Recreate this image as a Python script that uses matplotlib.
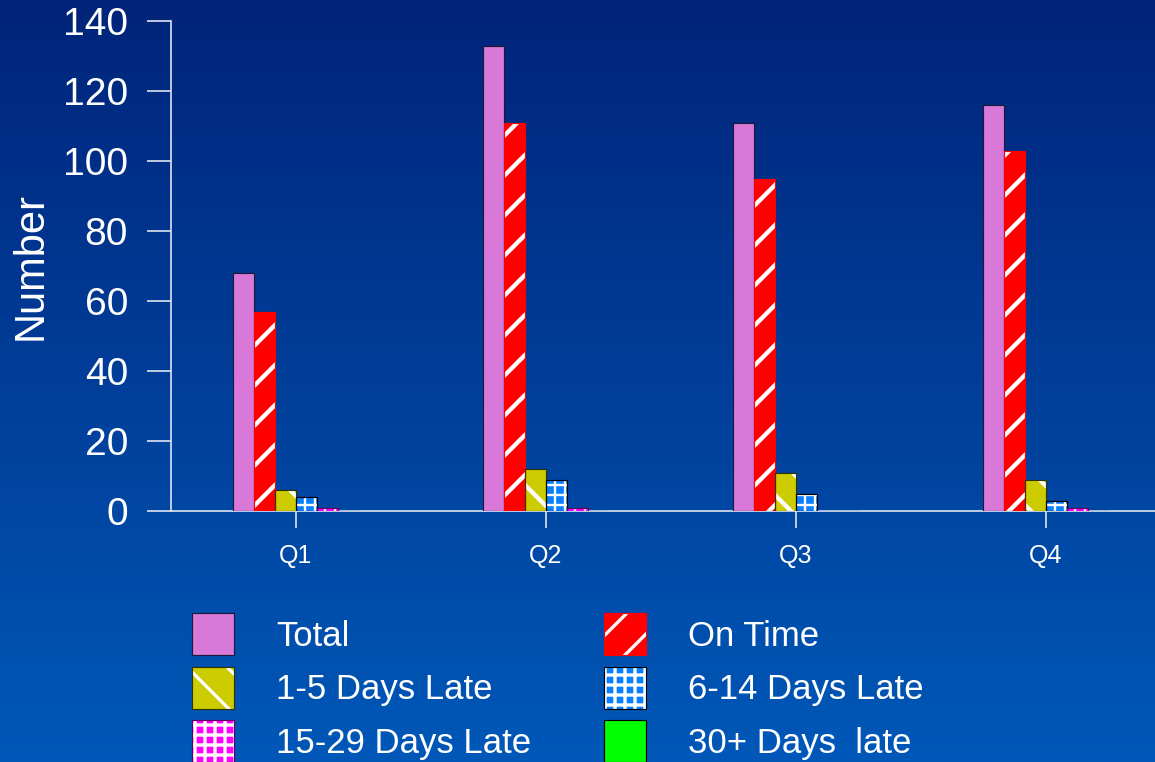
import numpy as np
import matplotlib
matplotlib.use("Agg")
import matplotlib.pyplot as plt
from matplotlib.colors import LinearSegmentedColormap
from matplotlib.legend_handler import HandlerTuple

# ---- data ----
quarters = ["Q1", "Q2", "Q3", "Q4"]
series_names = ["Total", "On Time", "1-5 Days Late", "6-14 Days Late",
                "15-29 Days Late", "30+ Days  late"]
total = [68, 133, 111, 116]
on_time = [57, 111, 95, 103]
late_1_5 = [6, 12, 11, 9]
late_6_14 = [4, 9, 5, 3]
late_15_29 = [1, 1, 0, 1]
late_30 = [0, 0, 0, 0]
y_ticks = [0, 20, 40, 60, 80, 100, 120, 140]

series_values = [total, on_time, late_1_5, late_6_14, late_15_29, late_30]
colors = ["#D878D8", "#FF0000", "#CCCC00", "#0A80FF", "#FF00FF", "#00FF00"]
hatches = [None, "//", "\\\\", "++++", "++++", None]
hatch_lw = [0, 1.3, 1.3, 0.7, 0.7, 0]
edge_colors = ["#1a1a3a", "#FF0000", "#333300", "black", "#600060", "black"]

DPI = 240
W, H = 1155, 762
plt.rcParams['font.family'] = ['Liberation Sans', 'DejaVu Sans']

fig = plt.figure(figsize=(W / DPI, H / DPI), dpi=DPI)

# gradient background
bg = fig.add_axes([0, 0, 1, 1], zorder=-10)
cmap = LinearSegmentedColormap.from_list("bg", ["#00247A", "#0058B8"])
grad = np.linspace(0, 1, 256).reshape(-1, 1)
bg.imshow(grad, aspect="auto", cmap=cmap, extent=[0, 1, 0, 1], origin="upper")
bg.set_axis_off()

left = 171 / W
bottom = (H - 511) / H
top = (H - 21) / H
ax = fig.add_axes([left, bottom, 1000 / W, top - bottom])
ax.patch.set_alpha(0)

x = np.arange(len(quarters))
bw = 0.084
offsets = (np.arange(6) - 2.5) * bw
handles = []
for i, (vals, name) in enumerate(zip(series_values, series_names)):
    h = hatches[i]
    with plt.rc_context({'hatch.linewidth': hatch_lw[i] if hatch_lw[i] else 1.0,
                         'hatch.color': 'white'}):
        if h:
            b = ax.bar(x + offsets[i], vals, bw, color=colors[i], hatch=h,
                       edgecolor="white", linewidth=0, zorder=3)
            for p in b:
                if hasattr(p, "set_hatch_linewidth"):
                    p.set_hatch_linewidth(hatch_lw[i])
            o = ax.bar(x + offsets[i], vals, bw, fill=False, edgecolor=edge_colors[i],
                       linewidth=0.35, zorder=4)
            handles.append((b, o))
        else:
            b = ax.bar(x + offsets[i], vals, bw, color=colors[i],
                       edgecolor=edge_colors[i], linewidth=0.35, zorder=3)
            handles.append(b)

ax.set_xlim(-0.5, 3.5)
ax.set_ylim(0, 140)
ax.set_yticks(y_ticks)
ax.set_yticklabels([str(t) for t in y_ticks])
ax.set_xticks(x)
ax.set_xticklabels(quarters)

for s in ["top", "right"]:
    ax.spines[s].set_visible(False)
for s in ["left", "bottom"]:
    ax.spines[s].set_color("#DDE4F0")
    ax.spines[s].set_linewidth(0.5)
    ax.spines[s].set_zorder(2)

ax.tick_params(axis="y", colors="#DDE4F0", length=24 * 72 / DPI, width=0.5,
               labelsize=11.7, labelcolor="white", pad=19 * 72 / DPI)
ax.tick_params(axis="x", colors="#DDE4F0", length=17 * 72 / DPI, width=0.5,
               labelsize=7.5, labelcolor="white", pad=16 * 72 / DPI)
ax.set_ylabel("Number", color="white", fontsize=12.5, labelpad=3.6)

# legend (row-wise order)
order = [0, 2, 4, 1, 3, 5]
leg = fig.legend([handles[i] for i in order], [series_names[i] for i in order],
                 handler_map={tuple: HandlerTuple(ndivide=1, pad=0)},
                 ncol=2, loc="upper left", bbox_to_anchor=(192 / W, 1 - 613 / H),
                 frameon=False, fontsize=10.45, handlelength=1.207, handleheight=1.48,
                 handletextpad=1.2, columnspacing=2.1, labelspacing=0.33,
                 borderpad=0, borderaxespad=0)
for t in leg.get_texts():
    t.set_color("white")

fig.savefig("out.png", dpi=DPI)
